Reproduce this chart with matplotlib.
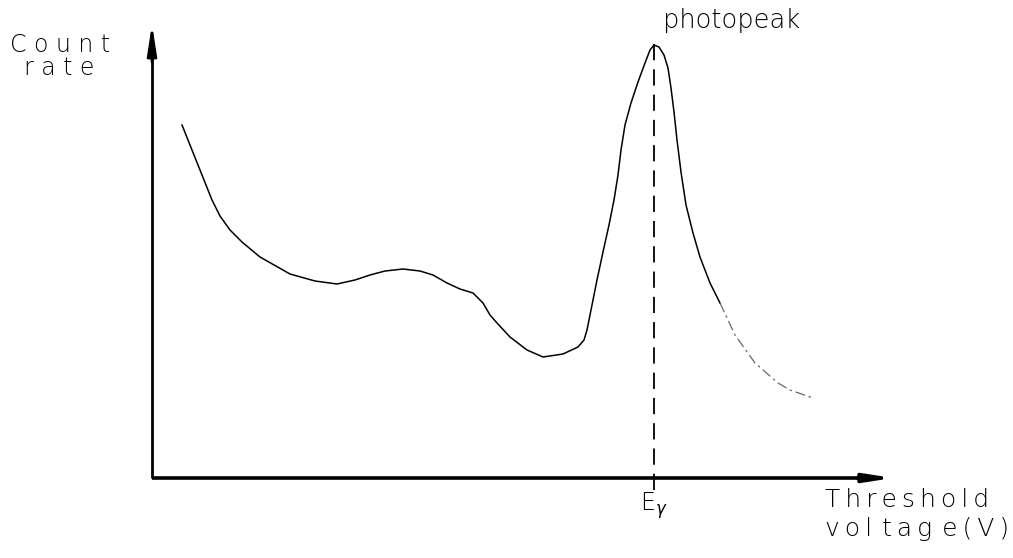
import matplotlib
matplotlib.use("Agg")
import matplotlib.pyplot as plt

# Spectrum sketch (arbitrary units: threshold voltage vs count rate)
volt_main = [30, 40, 50, 60, 68, 78, 90, 108, 138, 163, 185, 203, 218, 233, 251, 268, 281,
             295, 308, 321, 331, 338, 345, 358, 375, 391, 411, 426, 432, 435, 440, 445, 451,
             457, 462, 466, 469, 473, 479, 486, 493, 498, 502, 507, 512, 516, 519, 522, 525,
             529, 534, 541, 548, 558, 568]
count_main = [353, 328, 303, 278, 262, 248, 236, 221, 204, 197, 194, 198, 203, 207, 209, 207,
              203, 195, 189, 185, 175, 163, 155, 141, 128, 121, 124, 131, 138, 148, 173, 198,
              226, 253, 278, 303, 328, 353, 375, 396, 415, 428, 433, 431, 423, 410, 390, 366,
              338, 306, 273, 245, 221, 195, 175]
volt_tail = [568, 583, 603, 626, 638, 661]
count_tail = [175, 143, 115, 95, 88, 80]

peak_volt = 502
axis_top = 454
axis_right = 741

fig = plt.figure(figsize=(10.13, 5.58), dpi=100)
ax = fig.add_axes([0, 0, 1, 1])
ax.set_xlim(-152, 861)
ax.set_ylim(-80, 478)
ax.axis("off")

# axes with arrows
ax.plot([0, 0], [0, axis_top - 30], color="black", lw=2.0, solid_capstyle="butt")
ax.plot([0, axis_right - 30], [0, 0], color="black", lw=2.6, solid_capstyle="butt")
ax.annotate("", xy=(0, axis_top), xytext=(0, axis_top - 38),
            arrowprops=dict(arrowstyle="-|>,head_length=1.8,head_width=0.28",
                            color="black", lw=2.0, shrinkA=0, shrinkB=0))
ax.annotate("", xy=(axis_right, 0), xytext=(axis_right - 36, 0),
            arrowprops=dict(arrowstyle="-|>,head_length=1.6,head_width=0.25",
                            color="black", lw=2.6, shrinkA=0, shrinkB=0))

# curve
ax.plot(volt_main, count_main, color="black", lw=1.1, solid_joinstyle="round")
ax.plot(volt_tail, count_tail, color="#666666", lw=0.9, dashes=(8, 3, 2, 3))

# photopeak marker
ax.plot([peak_volt, peak_volt], [-12, 440], color="black", lw=1.3, dashes=(9, 5))

TS = "\u2009"


def spaced(s):
    return TS.join(s)


fam = ["DejaVu Sans"]
ax.text(-142, 445, "C o u n t", fontsize=17, family=fam, fontweight="light",
        va="top", ha="left")
ax.text(-128, 422, "r a t e", fontsize=17, family=fam, fontweight="light",
        va="top", ha="left")
ax.text(peak_volt + 9, 470, "photopeak", fontsize=18.5, family=fam, fontweight="light",
        va="top", ha="left")
ax.text(peak_volt, -12, r"E$_\gamma$", fontsize=17, family=fam, fontweight="light",
        va="top", ha="center")
ax.text(673, -10, spaced("Threshold"), fontsize=18, family=fam, fontweight="light",
        va="top", ha="left")
ax.text(673, -39, spaced("vol") + TS * 2 + spaced("tag") + TS * 2 + spaced("e(V)"),
        fontsize=18, family=fam, fontweight="light", va="top", ha="left")

fig.savefig("out.png", dpi=100)
